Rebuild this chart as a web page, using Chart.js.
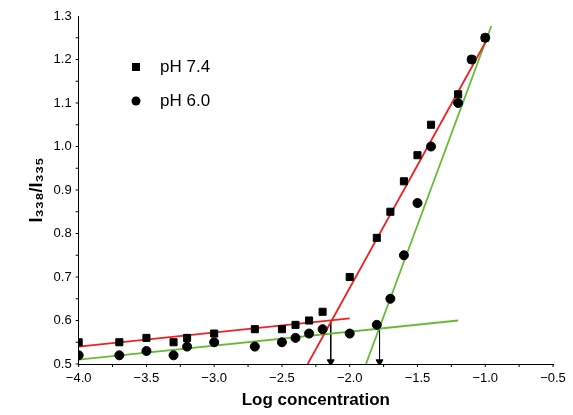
<!DOCTYPE html>
<html>
<head>
<script src="https://cdn.jsdelivr.net/npm/chart.js"></script>
<style>body{margin:0;background:#fff}</style>
</head>
<body>
<div style="width:573px;height:415px"><canvas id="c"></canvas></div>
<script>
const logConc = [-4, -3.7, -3.5, -3.3, -3.2, -3, -2.7, -2.5, -2.4, -2.3, -2.2, -2, -1.8, -1.7, -1.6, -1.5, -1.4, -1.2, -1.1, -1];
const ph74 = [0.55, 0.55, 0.56, 0.55, 0.56, 0.57, 0.58, 0.58, 0.59, 0.60, 0.62, 0.70, 0.79, 0.85, 0.92, 0.98, 1.05, 1.12, 1.20, 1.25];
const ph60 = [0.52, 0.52, 0.53, 0.52, 0.54, 0.55, 0.54, 0.55, 0.56, 0.57, 0.58, 0.57, 0.59, 0.65, 0.75, 0.87, 1.00, 1.10, 1.20, 1.25];
// fitted lines (endpoints)
const redLow = [{x: -4, y: 0.54}, {x: -2, y: 0.605}];
const redHigh = [{x: -2.31, y: 0.5}, {x: -0.98, y: 1.25}];
const greenLow = [{x: -4, y: 0.51}, {x: -1.2, y: 0.60}];
const greenHigh = [{x: -1.88, y: 0.5}, {x: -0.955, y: 1.277}];
const arrow1 = [{x: -2.14, y: 0.60}, {x: -2.14, y: 0.505}];
const arrow2 = [{x: -1.78, y: 0.597}, {x: -1.78, y: 0.505}];

const pts = arr => logConc.map((x, i) => ({x, y: arr[i]}));
const line = (data, color) => ({type: 'line', data, borderColor: color, borderWidth: 1.8, pointRadius: 0, showLine: true});
const arrow = data => ({type: 'line', data, borderColor: '#000', borderWidth: 1, showLine: true,
  pointStyle: 'triangle', rotation: 180, pointRadius: [0, 4], backgroundColor: '#000'});

const extras = {
  id: 'extras',
  afterDraw(chart) {
    const {ctx, scales: {x, y}} = chart;
    ctx.save();
    ctx.strokeStyle = '#000'; ctx.lineWidth = 1;
    for (let v = -4; v <= -0.5; v += 0.25) {
      const px = x.getPixelForValue(v);
      ctx.beginPath(); ctx.moveTo(px, y.bottom); ctx.lineTo(px, y.bottom + 3); ctx.stroke();
    }
    for (let v = 0.5; v <= 1.3; v += 0.05) {
      const py = y.getPixelForValue(v);
      ctx.beginPath(); ctx.moveTo(x.left, py); ctx.lineTo(x.left - 3, py); ctx.stroke();
    }
    ctx.fillStyle = '#000';
    ctx.font = '17px Arial, "Liberation Sans"';
    ctx.textBaseline = 'middle';
    ctx.fillRect(132, 63, 8, 8);
    ctx.fillText('pH 7.4', 160, 67);
    ctx.beginPath(); ctx.arc(136, 101, 4.5, 0, Math.PI * 2); ctx.fill();
    ctx.fillText('pH 6.0', 160, 101);
    ctx.restore();
  }
};

new Chart(document.getElementById('c'), {
  type: 'scatter',
  data: {
    datasets: [
      {data: pts(ph74), pointStyle: 'rect', pointRadius: 5, backgroundColor: '#000', borderColor: '#000'},
      {data: pts(ph60), pointStyle: 'circle', pointRadius: 4.5, backgroundColor: '#000', borderColor: '#000'},
      line(redLow, '#ee2222'), line(redHigh, '#ee2222'),
      line(greenLow, '#66bb33'), line(greenHigh, '#66bb33'),
      arrow(arrow1), arrow(arrow2)
    ]
  },
  options: {
    responsive: true, maintainAspectRatio: false, animation: false,
    layout: {padding: {top: 16, right: 20, bottom: 0, left: 22}},
    plugins: {legend: {display: false}, tooltip: {enabled: false}},
    scales: {
      x: {
        type: 'linear', min: -4, max: -0.5,
        border: {color: '#000', width: 1},
        grid: {display: false, drawOnChartArea: false, drawTicks: true, tickLength: 5, tickColor: '#000'},
        ticks: {stepSize: 0.5, color: '#000', font: {size: 13, family: 'Arial, "Liberation Sans"'}, padding: 2,
          callback: v => v.toFixed(1).replace('-', '\u2212')},
        title: {display: true, text: 'Log concentration', color: '#000', font: {size: 17, weight: 'bold', family: 'Arial, "Liberation Sans"'}, padding: {top: 2}}
      },
      y: {
        min: 0.5, max: 1.3,
        border: {color: '#000', width: 1},
        grid: {display: false, drawOnChartArea: false, drawTicks: true, tickLength: 5, tickColor: '#000'},
        ticks: {stepSize: 0.1, color: '#000', font: {size: 13, family: 'Arial, "Liberation Sans"'}, padding: 2,
          callback: v => v.toFixed(1)},
        title: {display: true, text: 'I\u2083\u2083\u2088/I\u2083\u2083\u2085', color: '#000', font: {size: 18, weight: 'bold', family: 'Arial, "Liberation Sans"'}}
      }
    }
  },
  plugins: [extras]
});
</script>
</body>
</html>
